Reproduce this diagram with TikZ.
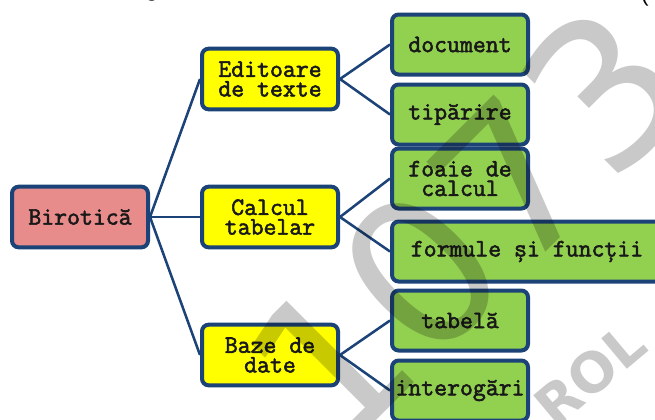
\documentclass[tikz,border=0pt]{standalone}
\usepackage{fontspec}
\setsansfont{Liberation Sans}
\newfontfamily\boxfont{Latin Modern Mono}[FakeBold=2.2]
\newfontfamily\wmfont{DejaVu Sans}
\usetikzlibrary{shadows}
\definecolor{edge}{HTML}{1C4378}
\definecolor{rootc}{HTML}{E88B8B}
\definecolor{midc}{HTML}{FFFF00}
\definecolor{leafc}{HTML}{92D050}
\definecolor{wm}{HTML}{C9C9C9}
\tikzset{
  px/.style={x=0.75pt,y=-0.75pt},
  boxbase/.style={draw=edge,line width=3pt,rounded corners=5pt,align=center,inner sep=0pt,
    font=\boxfont\fontsize{18.8pt}{14.7pt}\selectfont,text=black!90,
    execute at end node={\par\vspace{6.5pt}},
    drop shadow={shadow xshift=0.6pt,shadow yshift=-1pt,opacity=0.35,fill=black}},
  rootbox/.style={boxbase,fill=rootc,minimum width=102pt,minimum height=45.5pt},
  midbox/.style={boxbase,fill=midc,minimum width=102pt,minimum height=45.5pt},
  leafbox/.style={boxbase,fill=leafc,minimum width=102pt,minimum height=45pt},
  widebox/.style={boxbase,fill=leafc,minimum width=202.5pt,minimum height=45pt},
  conn/.style={draw=edge,line width=1.9pt},
  wmbig/.style={text=wm,font=\wmfont\bfseries\fontsize{152pt}{152pt}\selectfont,rotate=45,inner sep=0pt},
  wmsmall/.style={text=wm,font=\wmfont\bfseries\fontsize{41pt}{41pt}\selectfont,rotate=40,inner sep=0pt},
  wmregular/.style={wmbig,font=\wmfont\fontsize{152pt}{152pt}\selectfont},
  toptext/.style={text=black,font=\sffamily\fontsize{17pt}{17pt}\selectfont,inner sep=0pt},
}
\begin{document}
\begin{tikzpicture}[px]
\useasboundingbox (0,0) rectangle (655,419);
\clip (0,0) rectangle (655,419);
\fill[white] (0,0) rectangle (655,419);
\node[toptext] (tg) at (152,-7) {g};
\node[toptext] (tp) at (645,-4) {(};
\node[rootbox] (r) at (80,217) {Birotică};
\node[midbox] (m1) at (270,79) {Editoare\\de texte};
\node[midbox] (m2) at (270,217) {Calcul\\tabelar};
\node[midbox] (m3) at (270,355) {Baze de\\date};
\node[leafbox] (l1) at (460,44.5) {document};
\node[leafbox] (l2) at (460,114.5) {tipărire};
\node[leafbox] (l3) at (460,178.5) {foaie de\\calcul};
\node[widebox] (l4) at (527,251.5) {formule și funcții};
\node[leafbox] (l5) at (460,320.5) {tabelă};
\node[leafbox] (l6) at (460,390.5) {interogări};
\foreach \a/\b in {r/m1,r/m2,r/m3,m1/l1,m1/l2,m2/l3,m2/l4,m3/l5,m3/l6}
  \draw[conn] (\a.east) -- (\b.west);
\begin{scope}[blend mode=multiply]
\node[wmregular] (w1) at (467,226) {1073};
\node[wmsmall] (w5) at (590,375) {ROL};
\end{scope}
\end{tikzpicture}
\end{document}
